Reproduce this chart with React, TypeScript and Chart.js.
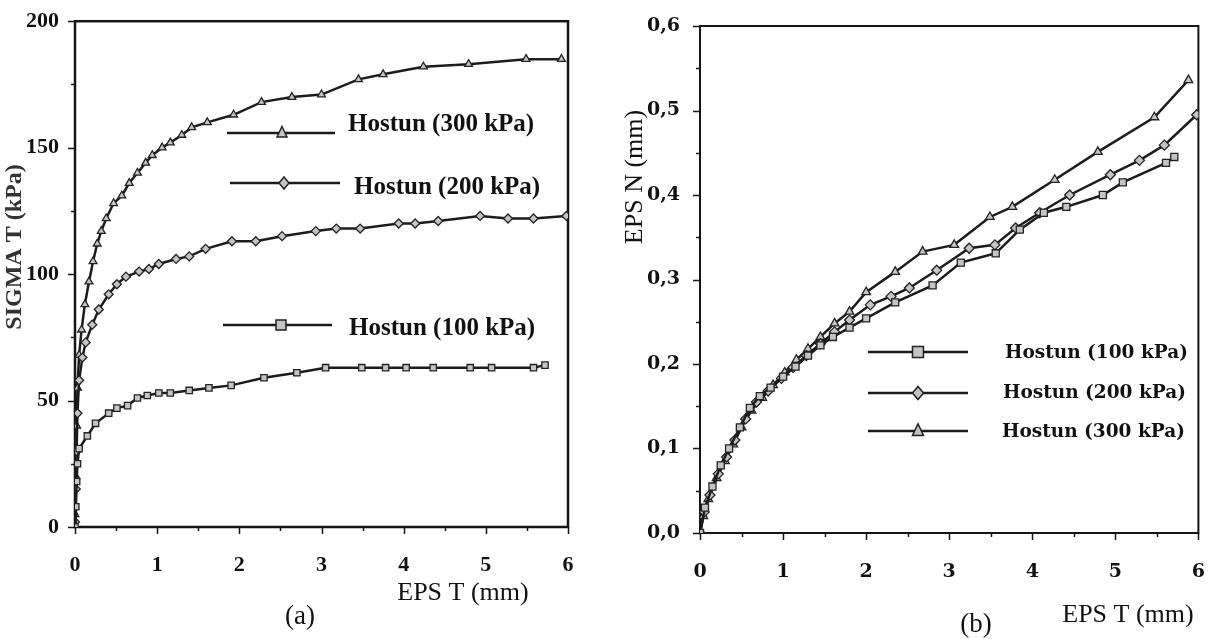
import React, { useEffect, useRef } from "react";
import { Chart, registerables } from "chart.js";

Chart.register(...registerables);

// ---------- Figure (a): EPS T (mm) vs SIGMA T (kPa) ----------
const aX100 = [0, 0.01, 0.02, 0.03, 0.05, 0.15, 0.25, 0.41, 0.51, 0.64, 0.76, 0.88, 1.02, 1.16, 1.39, 1.63, 1.9, 2.3, 2.7, 3.05, 3.49, 3.78, 4.03, 4.36, 4.81, 5.07, 5.58, 5.72];
const aY100 = [0, 8, 18, 25, 31, 36, 41, 45, 47, 48, 51, 52, 53, 53, 54, 55, 56, 59, 61, 63, 63, 63, 63, 63, 63, 63, 63, 64];

const aX200 = [0, 0.01, 0.02, 0.03, 0.05, 0.09, 0.13, 0.21, 0.29, 0.41, 0.51, 0.62, 0.78, 0.9, 1.02, 1.23, 1.39, 1.59, 1.91, 2.2, 2.52, 2.93, 3.18, 3.47, 3.94, 4.14, 4.42, 4.93, 5.27, 5.58, 5.98];
const aY200 = [2, 15, 30, 45, 58, 67, 73, 80, 86, 92, 96, 99, 101, 102, 104, 106, 107, 110, 113, 113, 115, 117, 118, 118, 120, 120, 121, 123, 122, 122, 123];

const aX300 = [0, 0.01, 0.02, 0.03, 0.05, 0.08, 0.12, 0.17, 0.22, 0.27, 0.32, 0.38, 0.47, 0.57, 0.66, 0.76, 0.86, 0.94, 1.06, 1.16, 1.3, 1.42, 1.61, 1.93, 2.27, 2.64, 3.0, 3.45, 3.75, 4.24, 4.79, 5.49, 5.92];
const aY300 = [5, 20, 40, 55, 68, 78, 88, 97, 105, 112, 117, 122, 128, 131, 136, 140, 144, 147, 150, 152, 155, 158, 160, 163, 168, 170, 171, 177, 179, 182, 183, 185, 185];

// ---------- Figure (b): EPS T (mm) vs EPS N (mm) ----------
const bX100 = [0, 0.06, 0.15, 0.25, 0.35, 0.48, 0.6, 0.72, 0.85, 1.0, 1.15, 1.3, 1.45, 1.6, 1.8, 2.0, 2.35, 2.8, 3.14, 3.56, 3.85, 4.14, 4.41, 4.85, 5.09, 5.61, 5.71];
const bY100 = [0, 0.03, 0.055, 0.08, 0.1, 0.125, 0.148, 0.162, 0.172, 0.185, 0.197, 0.21, 0.222, 0.232, 0.243, 0.254, 0.273, 0.293, 0.32, 0.331, 0.359, 0.379, 0.386, 0.4, 0.415, 0.438, 0.445];

const bX200 = [0, 0.05, 0.12, 0.22, 0.32, 0.42, 0.55, 0.68, 0.82, 0.98, 1.12, 1.28, 1.45, 1.62, 1.8, 2.05, 2.3, 2.52, 2.85, 3.24, 3.55, 3.8, 4.09, 4.45, 4.94, 5.29, 5.59, 5.98];
const bY200 = [0, 0.025, 0.045, 0.07, 0.09, 0.11, 0.135, 0.155, 0.168, 0.183, 0.196, 0.21, 0.224, 0.238, 0.252, 0.27, 0.28, 0.29, 0.311, 0.337, 0.341, 0.361, 0.379, 0.4, 0.424, 0.441, 0.459, 0.495];

const bX300 = [0, 0.04, 0.1, 0.2, 0.3, 0.4, 0.5, 0.62, 0.75, 0.88, 1.02, 1.16, 1.3, 1.45, 1.62, 1.8, 2.0, 2.35, 2.68, 3.06, 3.49, 3.76, 4.27, 4.79, 5.47, 5.88];
const bY300 = [0, 0.02, 0.04, 0.065, 0.085, 0.105, 0.125, 0.145, 0.16, 0.175, 0.19, 0.205, 0.218, 0.232, 0.248, 0.262, 0.285, 0.309, 0.333, 0.341, 0.374, 0.386, 0.418, 0.451, 0.492, 0.536];

const seriesLabels = ["Hostun (100 kPa)", "Hostun (200 kPa)", "Hostun (300 kPa)"];
const seriesStyles = ["rect", "rectRot", "triangle"];

const zip = (xs: number[], ys: number[]) => xs.map((x, i) => ({ x, y: ys[i] }));

type LegendItem = { label: string; style: string; lineY: number; x1: number; x2: number; mx: number; tx: number; ty: number };
type Title = { text: string; x: number; y: number; font: string; rotate?: boolean; color?: string };

function drawMarker(ctx: CanvasRenderingContext2D, style: string, x: number, y: number, r: number) {
  ctx.beginPath();
  if (style === "triangle") {
    ctx.moveTo(x, y - r * 1.3);
    ctx.lineTo(x + r, y + r * 0.8);
    ctx.lineTo(x - r, y + r * 0.8);
    ctx.closePath();
  } else if (style === "rectRot") {
    ctx.moveTo(x, y - r * 1.2);
    ctx.lineTo(x + r, y);
    ctx.lineTo(x, y + r * 1.2);
    ctx.lineTo(x - r, y);
    ctx.closePath();
  } else {
    ctx.rect(x - r, y - r, 2 * r, 2 * r);
  }
  ctx.fill();
  ctx.stroke();
}

function decorPlugin(spec: {
  offsetX: number;
  frameWidth: number;
  xMinor: number;
  yMinor: number;
  legend: LegendItem[];
  legendFont: string;
  markerR: number;
  titles: Title[];
}) {
  return {
    id: "decor",
    beforeDatasetsDraw(chart: any) {
      const { ctx, chartArea: a, scales } = chart;
      const xs = scales.x;
      const ys = scales.y;
      ctx.save();
      ctx.strokeStyle = "#151515";
      ctx.lineWidth = spec.frameWidth;
      ctx.strokeRect(a.left, a.top, a.right - a.left, a.bottom - a.top);
      ctx.lineWidth = 1.5;
      ctx.beginPath();
      for (let v = xs.min; v <= xs.max + 1e-9; v += spec.xMinor) {
        const px = Math.round(xs.getPixelForValue(v)) + 0.5;
        const major = Math.abs(v - Math.round(v)) < 1e-6;
        ctx.moveTo(px, a.bottom);
        ctx.lineTo(px, a.bottom + (major ? 7 : 4));
      }
      const majorStep = ys.options.ticks.stepSize;
      for (let v = ys.min; v <= ys.max + 1e-9; v += spec.yMinor) {
        const py = Math.round(ys.getPixelForValue(v)) + 0.5;
        const r = v / majorStep;
        const major = Math.abs(r - Math.round(r)) < 1e-6;
        ctx.moveTo(a.left, py);
        ctx.lineTo(a.left - (major ? 7 : 4), py);
      }
      ctx.stroke();
      ctx.restore();
    },
    afterDraw(chart: any) {
      const { ctx } = chart;
      const ox = spec.offsetX;
      ctx.save();
      for (const it of spec.legend) {
        ctx.strokeStyle = "#1a1a1a";
        ctx.lineWidth = 2.5;
        ctx.beginPath();
        ctx.moveTo(it.x1 - ox, it.lineY);
        ctx.lineTo(it.x2 - ox, it.lineY);
        ctx.stroke();
        ctx.fillStyle = "#c4c4c4";
        ctx.lineWidth = 1.5;
        ctx.strokeStyle = "#222";
        drawMarker(ctx, it.style, it.mx - ox, it.lineY, spec.markerR);
        ctx.fillStyle = "#111";
        ctx.font = spec.legendFont;
        ctx.textAlign = "left";
        ctx.textBaseline = "middle";
        ctx.fillText(it.label, it.tx - ox, it.ty);
      }
      for (const t of spec.titles) {
        ctx.save();
        ctx.fillStyle = t.color || "#111";
        ctx.font = t.font;
        ctx.textAlign = "center";
        ctx.textBaseline = "middle";
        ctx.translate(t.x - ox, t.y);
        if (t.rotate) ctx.rotate(-Math.PI / 2);
        ctx.fillText(t.text, 0, 0);
        ctx.restore();
      }
      ctx.restore();
    },
  };
}

function makeDatasets(xsList: number[][], ysList: number[][], radius: number) {
  return xsList.map((xs, i) => ({
    label: seriesLabels[i],
    data: zip(xs, ysList[i]),
    borderColor: "#1c1c1c",
    borderWidth: 2.5,
    backgroundColor: "#c4c4c4",
    pointStyle: seriesStyles[i],
    pointRadius: radius,
    pointBorderColor: "#222",
    pointBorderWidth: 1.3,
    pointBackgroundColor: "#c4c4c4",
    tension: 0,
    fill: false,
  }));
}

function ChartA() {
  const ref = useRef<HTMLCanvasElement | null>(null);
  useEffect(() => {
    if (!ref.current) return;
    const tickFont = { family: "Liberation Serif", size: 22, weight: "bold" as const };
    const chart = new Chart(ref.current, {
      type: "line",
      data: { datasets: makeDatasets([aX100, aX200, aX300], [aY100, aY200, aY300], 4.5) as any },
      options: {
        animation: false,
        responsive: false,
        devicePixelRatio: 1,
        layout: { padding: { left: 0, top: 20, right: 44, bottom: 0 } },
        plugins: { legend: { display: false }, tooltip: { enabled: false } },
        scales: {
          x: {
            type: "linear",
            min: 0,
            max: 6,
            grid: { display: false },
            border: { display: false },
            ticks: { stepSize: 1, padding: 17, color: "#111", font: tickFont },
            afterFit: (s: any) => { s.height = 112; },
          },
          y: {
            type: "linear",
            min: 0,
            max: 200,
            grid: { display: false },
            border: { display: false },
            ticks: { stepSize: 50, padding: 8, color: "#111", font: tickFont },
            afterFit: (s: any) => { s.width = 75; },
          },
        },
      },
      plugins: [
        decorPlugin({
          offsetX: 0,
          frameWidth: 2.5,
          xMinor: 0.5,
          yMinor: 25,
          markerR: 5,
          legendFont: "bold 25px 'Liberation Serif'",
          legend: [
            { label: seriesLabels[2], style: "triangle", lineY: 133, x1: 227, x2: 335, mx: 282, tx: 348, ty: 125 },
            { label: seriesLabels[1], style: "rectRot", lineY: 183, x1: 230, x2: 340, mx: 284, tx: 354, ty: 188 },
            { label: seriesLabels[0], style: "rect", lineY: 325, x1: 223, x2: 332, mx: 281, tx: 349, ty: 329 },
          ],
          titles: [
            { text: "SIGMA T (kPa)", x: 15, y: 247, font: "bold 24px 'Liberation Serif'", rotate: true, color: "#333" },
            { text: "EPS T (mm)", x: 463, y: 593, font: "26px 'Liberation Serif'" },
            { text: "(a)", x: 300, y: 617, font: "27px 'Liberation Serif'" },
          ],
        }) as any,
      ],
    });
    return () => chart.destroy();
  }, []);
  return <canvas ref={ref} width={612} height={639} style={{ position: "absolute", left: 0, top: 0, display: "block" }} />;
}

function ChartB() {
  const ref = useRef<HTMLCanvasElement | null>(null);
  useEffect(() => {
    if (!ref.current) return;
    const tickFont = { family: "DejaVu Serif", size: 19, weight: "bold" as const };
    const chart = new Chart(ref.current, {
      type: "line",
      data: { datasets: makeDatasets([bX100, bX200, bX300], [bY100, bY200, bY300], 5) as any },
      options: {
        animation: false,
        responsive: false,
        devicePixelRatio: 1,
        layout: { padding: { left: 0, top: 26, right: 15, bottom: 0 } },
        plugins: { legend: { display: false }, tooltip: { enabled: false } },
        scales: {
          x: {
            type: "linear",
            min: 0,
            max: 6,
            grid: { display: false },
            border: { display: false },
            ticks: { stepSize: 1, padding: 20, color: "#111", font: tickFont },
            afterFit: (s: any) => { s.height = 106; },
          },
          y: {
            type: "linear",
            min: 0,
            max: 0.6,
            grid: { display: false },
            border: { display: false },
            ticks: {
              stepSize: 0.1,
              padding: 12,
              color: "#111",
              font: tickFont,
              callback: (v: any) => Number(v).toFixed(1).replace(".", ","),
            },
            afterFit: (s: any) => { s.width = 88; },
          },
        },
      },
      plugins: [
        decorPlugin({
          offsetX: 612,
          frameWidth: 2,
          xMinor: 0.5,
          yMinor: 0.05,
          markerR: 5.5,
          legendFont: "bold 18.5px 'DejaVu Serif'",
          legend: [
            { label: seriesLabels[0], style: "rect", lineY: 352, x1: 868, x2: 968, mx: 918, tx: 1005, ty: 353 },
            { label: seriesLabels[1], style: "rectRot", lineY: 393, x1: 868, x2: 968, mx: 918, tx: 1003, ty: 393 },
            { label: seriesLabels[2], style: "triangle", lineY: 431, x1: 868, x2: 968, mx: 918, tx: 1002, ty: 432 },
          ],
          titles: [
            { text: "EPS N (mm)", x: 635, y: 177, font: "26px 'Liberation Serif'", rotate: true },
            { text: "EPS T (mm)", x: 1128, y: 615, font: "26px 'Liberation Serif'" },
            { text: "(b)", x: 976, y: 625, font: "27px 'Liberation Serif'" },
          ],
        }) as any,
      ],
    });
    return () => chart.destroy();
  }, []);
  return <canvas ref={ref} width={613} height={639} style={{ position: "absolute", left: 612, top: 0, display: "block" }} />;
}

export default function App() {
  return (
    <div style={{ position: "absolute", left: 0, top: 0, width: 1225, height: 639, background: "#fff", overflow: "hidden" }}>
      <ChartA />
      <ChartB />
    </div>
  );
}
